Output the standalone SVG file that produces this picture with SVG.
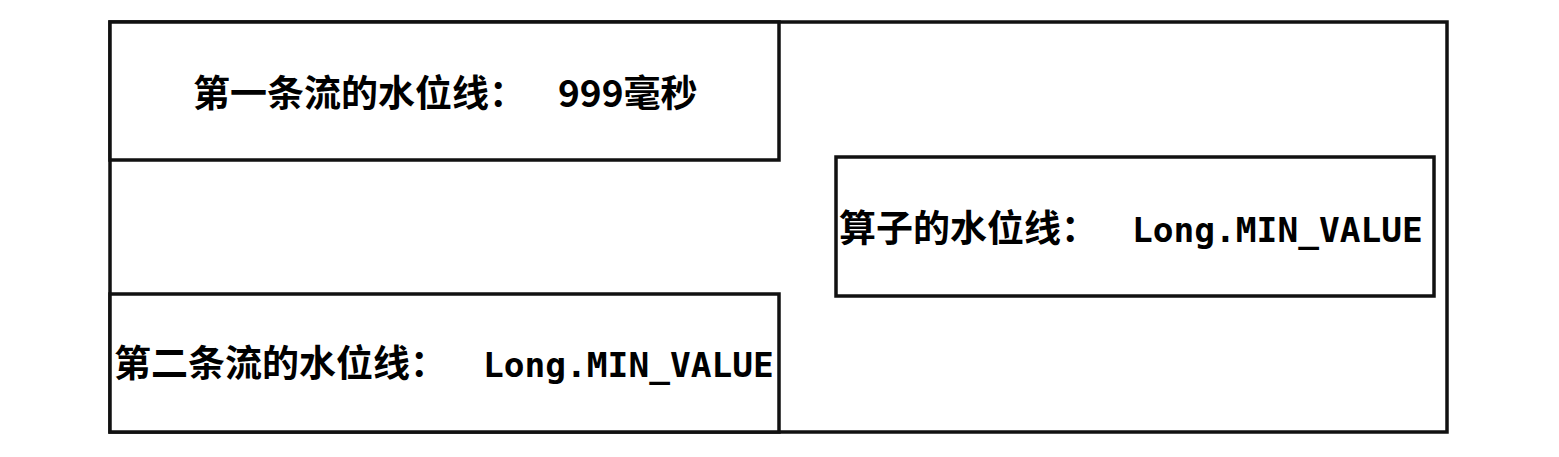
<svg xmlns="http://www.w3.org/2000/svg" width="1559" height="457" viewBox="0 0 1559 457">
<style>
.box{fill:#fff;stroke:#111;stroke-width:3.5}
.cjk{font-family:"Noto Sans CJK SC","Noto Sans",sans-serif;font-weight:bold;font-size:37px;fill:#000}
.mono{font-family:"DejaVu Sans Mono","Liberation Mono",monospace;font-weight:bold;font-size:34.5px;fill:#000}
</style>
<rect width="1559" height="457" fill="#fff"/>
<g id="outer"><rect class="box" x="110" y="22" width="1337" height="410"/></g>
<g id="stream1">
<rect class="box" x="110" y="22" width="669" height="138"/>
<text class="cjk" x="193" y="107">第一条流的水位线：<tspan x="558">999毫秒</tspan></text>
</g>
<g id="stream2">
<rect class="box" x="110" y="294" width="669" height="138"/>
<text class="cjk" x="114" y="377">第二条流的水位线：</text>
<text class="mono" x="483" y="377">Long.MIN_VALUE</text>
</g>
<g id="operator">
<rect class="box" x="836" y="157" width="598" height="139"/>
<text class="cjk" x="839" y="242">算子的水位线：</text>
<text class="mono" x="1132" y="242">Long.MIN_VALUE</text>
</g>
<g id="connectors"></g>
</svg>
